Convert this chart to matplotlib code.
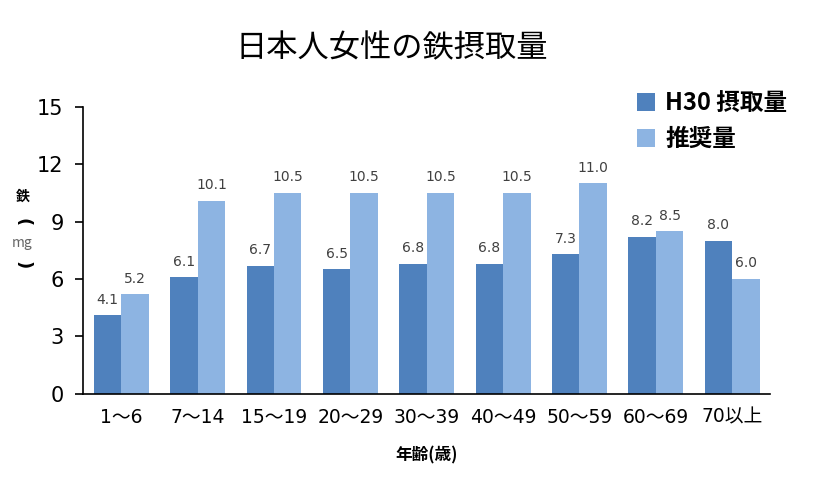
import matplotlib
matplotlib.use("Agg")
import matplotlib.pyplot as plt
import numpy as np

plt.rcParams['font.family'] = ['Noto Sans CJK JP', 'DejaVu Sans']
num_font = ['DejaVu Sans', 'Noto Sans CJK JP']

ages = ['1～6', '7～14', '15～19', '20～29', '30～39', '40～49', '50～59', '60～69', '70以上']
intake = [4.1, 6.1, 6.7, 6.5, 6.8, 6.8, 7.3, 8.2, 8.0]
recommended = [5.2, 10.1, 10.5, 10.5, 10.5, 10.5, 11.0, 8.5, 6.0]

dark = '#4F81BD'
light = '#8DB4E2'

fig = plt.figure(figsize=(8.31, 4.88), dpi=100)
ax = fig.add_axes([0.1, 0.193, 0.827, 0.588])

x = np.arange(len(ages))
w = 0.36
b1 = ax.bar(x - w / 2, intake, w, color=dark, label='H30 摂取量')
b2 = ax.bar(x + w / 2, recommended, w, color=light, label='推奨量')

for bars, vals in ((b1, intake), (b2, recommended)):
    for r, v in zip(bars, vals):
        ax.text(r.get_x() + r.get_width() / 2, v + 0.45, f'{v:.1f}',
                ha='center', va='bottom', fontsize=10, color='#404040',
                family=num_font)

ax.set_xlim(-0.5, len(ages) - 0.5)
ax.set_ylim(0, 15)
ax.set_yticks([0, 3, 6, 9, 12, 15])
ax.set_xticks(x)
ax.set_xticklabels(ages, fontsize=13.5, family=num_font)
for t in ax.get_yticklabels():
    t.set_family(num_font)
ax.tick_params(axis='y', labelsize=15, direction='out', length=6, width=1.2, pad=8)
ax.tick_params(axis='x', length=0, pad=10)
for s in ('top', 'right'):
    ax.spines[s].set_visible(False)
for s in ('left', 'bottom'):
    ax.spines[s].set_linewidth(1.2)

ax.set_xlabel('年齢(歳)', fontsize=12, fontweight='bold', labelpad=14)

# vertical y label, stacked by hand
ylab_x = 0.027
fig.text(ylab_x, 1 - 197 / 488, '鉄', ha='center', va='center', fontsize=10, fontweight='bold')
fig.text(ylab_x, 1 - 222 / 488, '(', ha='center', va='center', fontsize=13,
         fontweight='bold', rotation=270, rotation_mode='anchor', family='DejaVu Sans')
fig.text(ylab_x, 1 - 243 / 488, 'mg', ha='center', va='center', fontsize=10, color='#666666')
fig.text(ylab_x, 1 - 265 / 488, ')', ha='center', va='center', fontsize=13,
         fontweight='bold', rotation=270, rotation_mode='anchor', family='DejaVu Sans')

fig.text(0.471, 0.902, '日本人女性の鉄摂取量', ha='center', va='center', fontsize=22.5)

fig.legend(handles=[b1, b2], loc='upper left', bbox_to_anchor=(0.755, 0.832),
           frameon=False, handlelength=0.75, handleheight=0.8,
           handletextpad=0.45, labelspacing=0.5, borderaxespad=0,
           prop={'size': 17, 'weight': 'bold'})

fig.savefig('out.png', dpi=100)
